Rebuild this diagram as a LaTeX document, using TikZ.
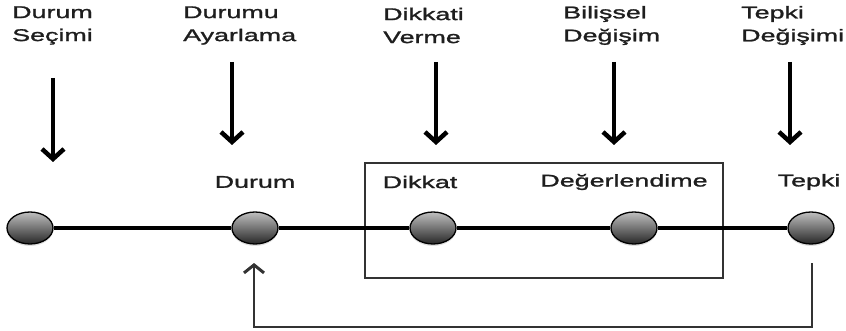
\documentclass[tikz,border=0pt]{standalone}
\usepackage{fontspec}
\setmainfont{Liberation Sans}[FakeStretch=1.58,FakeBold=1.4]
\usetikzlibrary{shapes.geometric,arrows.meta,shadows}
\definecolor{txt}{HTML}{1E1E1E}
\begin{document}
\begin{tikzpicture}[x=1pt,y=-1pt,
  lbl/.style={inner sep=0pt,text=txt,font=\fontsize{17}{23}\selectfont,align=left},
  dot/.style={ellipse,minimum width=46pt,minimum height=32pt,inner sep=0pt,
    draw=black,line width=1.3pt,top color=black!25,bottom color=black!85,
    drop shadow={shadow xshift=0pt,shadow yshift=-2pt,opacity=0.25}},
  downarr/.style={line width=4.5pt,-{Straight Barb[length=10pt,width=22pt,line width=4.5pt]}},
  fbarr/.style={line width=2.5pt,draw=black!80,-{Straight Barb[length=8pt,width=20pt,line width=3pt]}},
  mainline/.style={line width=3.5pt,draw=black},
  boxst/.style={draw=black!80,line width=1.3pt}]
\useasboundingbox (0,0) rectangle (846,331);
% box
\draw[boxst] (365,163) rectangle (723,278);
% ellipses
\node[dot] (e1) at (30,228) {};
\node[dot] (e2) at (255,228) {};
\node[dot] (e3) at (433,228) {};
\node[dot] (e4) at (634,228) {};
\node[dot] (e5) at (811,228) {};
\draw[mainline] (e1) -- (e2);
\draw[mainline] (e2) -- (e3);
\draw[mainline] (e3) -- (e4);
\draw[mainline] (e4) -- (e5);
% labels above nodes
\node[lbl] (l2) at (255,182) {Durum};
\node[lbl] (l3) at (420,182) {Dikkat};
\node[lbl] (l4) at (624,182) {Değerlendime};
\node[lbl] (l5) at (809,182) {Tepki};
% top labels
\node[lbl,anchor=west] (t1) at (12,25.5) {Durum\\Seçimi};
\node[lbl,anchor=west] (t2) at (183,25.5) {Durumu\\Ayarlama};
\node[lbl,anchor=west] (t3) at (383,25.5) {Dikkati\\Verme};
\node[lbl,anchor=west] (t4) at (563,25.5) {Bilişsel\\Değişim};
\node[lbl,anchor=west] (t5) at (741,25.5) {Tepki\\Değişimi};
% top arrows
\coordinate (a1s) at (53,78);  \coordinate (a1e) at (53,162);
\coordinate (a2s) at (232,62); \coordinate (a2e) at (232,145);
\coordinate (a3s) at (436,62); \coordinate (a3e) at (436,145);
\coordinate (a4s) at (614,62); \coordinate (a4e) at (614,145);
\coordinate (a5s) at (790,62); \coordinate (a5e) at (790,145);
\draw[downarr] (a1s) -- (a1e);
\draw[downarr] (a2s) -- (a2e);
\draw[downarr] (a3s) -- (a3e);
\draw[downarr] (a4s) -- (a4e);
\draw[downarr] (a5s) -- (a5e);
% feedback
\coordinate (fb1) at (812,263);
\coordinate (fb2) at (812,327);
\coordinate (fb3) at (254,263);
\draw[fbarr] (fb1) -- (fb2) -| (fb3);
\end{tikzpicture}
\end{document}
